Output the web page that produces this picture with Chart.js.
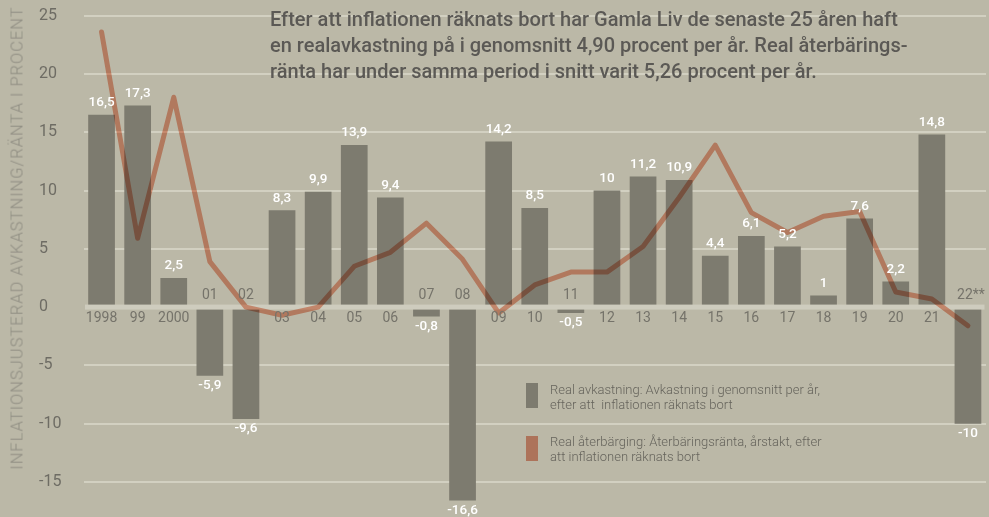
<!DOCTYPE html>
<html>
<head>
<meta charset="utf-8">
<script src="https://cdn.jsdelivr.net/npm/chart.js@4.4.1/dist/chart.umd.min.js"></script>
<style>
  html, body { margin:0; padding:0; background:#bbb8a7; }
  #wrap { position:relative; width:989px; height:517px; overflow:hidden; background:#bbb8a7; }
  canvas { position:absolute; left:0; top:0; }
  #title { position:absolute; left:270px; top:6px; font-family:Roboto, sans-serif; font-weight:500;
           font-size:20px; line-height:26px; color:#5b5955; white-space:nowrap; letter-spacing:0px; }
  #ytitle { position:absolute; left:17px; top:238px; transform:translate(-50%,-50%) rotate(-90deg);
            font-family:Roboto, sans-serif; font-weight:300; font-size:16.5px; letter-spacing:1px;
            color:#8f8d82; white-space:nowrap; }
  .lg { position:absolute; left:526px; width:12px; height:25px; }
  .lt { position:absolute; left:550px; font-family:Roboto, sans-serif; font-weight:300; font-size:13px;
        line-height:15px; color:#66645c; white-space:nowrap; }
</style>
</head>
<body>
<div id="wrap">
  <canvas id="c" width="989" height="517"></canvas>
  <div id="title">Efter att inflationen räknats bort har Gamla Liv de senaste 25 åren haft<br>en realavkastning på i genomsnitt 4,90 procent per år. Real återbärings-<br>ränta har under samma period i snitt varit 5,26 procent per år.</div>
  <div id="ytitle">INFLATIONSJUSTERAD AVKASTNING/RÄNTA I PROCENT</div>
  <div class="lg" style="top:383px;background:#7d7b6f"></div>
  <div class="lt" style="top:382px">Real avkastning: Avkastning i genomsnitt per år,<br>efter att&nbsp; inflationen räknats bort</div>
  <div class="lg" style="top:436px;background:#ad735a"></div>
  <div class="lt" style="top:434px">Real återbärging: Återbäringsränta, årstakt, efter<br>att inflationen räknats bort</div>
</div>
<script>
const categories = ['1998','99','2000','01','02','03','04','05','06','07','08','09','10','11','12','13','14','15','16','17','18','19','20','21','22**'];
const realAvkastning = [16.5,17.3,2.5,-5.9,-9.6,8.3,9.9,13.9,9.4,-0.8,-16.6,14.2,8.5,-0.5,10,11.2,10.9,4.4,6.1,5.2,1,7.6,2.2,14.8,-10];
const realAterbaring = [23.6,5.9,18.0,3.9,0.0,-0.7,0.0,3.5,4.7,7.2,4.1,-0.5,1.9,3.0,3.0,5.2,9.4,13.9,8.1,6.4,7.8,8.2,1.3,0.7,-1.6];
const yTicks = [-15,-10,-5,0,5,10,15,20,25];

const BG = '#bbb8a7';
const BAR = '#7d7b6f';
const LINE = 'rgb(241,168,144)';
const GRID = 'rgba(214,212,198,0.85)';
const ZERO = 'rgb(206,204,190)';

const fmt = v => String(v).replace('.', ',');

const overlay = {
  id: 'overlay',
  beforeDraw(chart) {
    const ctx = chart.ctx;
    ctx.save();
    ctx.fillStyle = BG;
    ctx.fillRect(0, 0, chart.width, chart.height);
    ctx.restore();
  },
  beforeDatasetDraw(chart, args) {
    if (args.index === 1) { chart.ctx.save(); chart.ctx.globalCompositeOperation = 'multiply'; }
  },
  afterDatasetDraw(chart, args) {
    const ctx = chart.ctx;
    if (args.index === 1) { ctx.restore(); }
    if (args.index === 0) {
      const y0 = chart.scales.y.getPixelForValue(0);
      const a = chart.chartArea;
      ctx.save();
      ctx.fillStyle = ZERO;
      ctx.fillRect(a.left + 1.5, y0 - 2.5, a.right - a.left - 3, 5);
      ctx.restore();
    }
  },
  afterDatasetsDraw(chart) {
    const ctx = chart.ctx;
    const meta = chart.getDatasetMeta(0);
    const y0 = chart.scales.y.getPixelForValue(0);
    ctx.save();
    ctx.textAlign = 'center';
    ctx.textBaseline = 'middle';
    meta.data.forEach((bar, i) => {
      const v = realAvkastning[i];
      ctx.font = '400 14px Roboto, sans-serif';
      ctx.fillStyle = '#75736a';
      const lx = i === categories.length - 1 ? bar.x + 3 : bar.x;
      ctx.fillText(categories[i], lx, v >= 0 ? y0 + 11.5 : y0 - 11.5);
      ctx.font = '500 13.5px Roboto, sans-serif';
      ctx.fillStyle = '#ffffff';
      if (v >= 0) ctx.fillText(fmt(v), bar.x, bar.y - 12);
      else ctx.fillText(fmt(v), bar.x, bar.y + 10);
    });
    ctx.restore();
  }
};

new Chart(document.getElementById('c'), {
  type: 'bar',
  data: {
    labels: categories,
    datasets: [
      { type: 'bar', data: realAvkastning, backgroundColor: BAR, borderWidth: 0,
        barPercentage: 0.74, categoryPercentage: 1.0, order: 2 },
      { type: 'line', data: realAterbaring, borderColor: LINE, borderWidth: 5, tension: 0,
        pointRadius: 0, borderJoinStyle: 'round', borderCapStyle: 'round', fill: false, order: 1 }
    ]
  },
  options: {
    responsive: false,
    devicePixelRatio: 1,
    animation: false,
    events: [],
    layout: { padding: { left: 39, top: 4, right: 3, bottom: 0 } },
    plugins: { legend: { display: false }, tooltip: { enabled: false } },
    scales: {
      x: { display: false, offset: true, grid: { display: false } },
      y: {
        min: -18, max: 26,
        afterBuildTicks: s => { s.ticks = yTicks.map(v => ({ value: v })); },
        afterFit: s => { s.width = 44.5; },
        border: { display: false },
        grid: { drawTicks: false, lineWidth: 2,
                color: c => (c.tick && c.tick.value === 0) ? 'rgba(0,0,0,0)' : GRID },
        ticks: { crossAlign: 'far', padding: 0, color: '#6e6c64',
                 font: { family: 'Roboto', size: 16, weight: '400', lineHeight: 0.01 } }
      }
    }
  },
  plugins: [overlay]
});
</script>
</body>
</html>
